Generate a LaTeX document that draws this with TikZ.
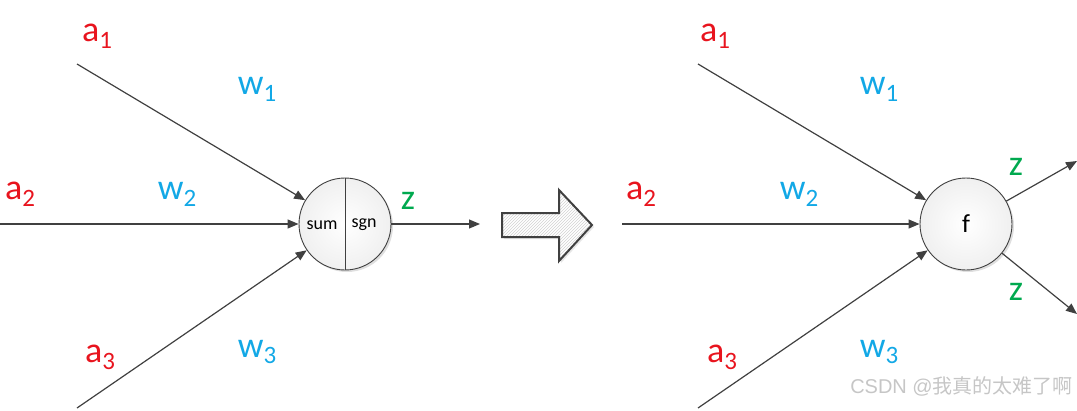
\documentclass[tikz,border=0pt]{standalone}
\usepackage{fontspec}
\setmainfont{Carlito}
\newfontfamily\cjk{Noto Sans CJK SC}
\usetikzlibrary{arrows.meta,patterns,shadows}
\definecolor{lred}{HTML}{E8141E}
\definecolor{lblue}{HTML}{12A8E6}
\definecolor{lgreen}{HTML}{00A94F}
\definecolor{lline}{HTML}{404040}
\newcommand\subsc[1]{\raisebox{-0.4ex}{\fontsize{25}{25}\selectfont #1}}
\tikzset{
  x=1pt,y=-1pt,
  conn/.style={draw=lline,line width=1.2pt,-{Triangle[length=11pt,width=9pt]}},
  neuron/.style={circle,draw=lline,line width=0.9pt,minimum size=92pt,inner sep=0pt,
     inner color=white,outer color=gray!12,drop shadow={shadow xshift=2pt,shadow yshift=-2pt,opacity=0.25}},
  alab/.style={text=lred,font=\fontsize{36}{36}\selectfont,inner sep=0pt},
  wlab/.style={text=lblue,font=\fontsize{36}{36}\selectfont,inner sep=0pt},
  zlab/.style={text=lgreen,font=\fontsize{36}{36}\selectfont,inner sep=0pt},
  small/.style={font=\fontsize{18}{18}\selectfont,inner sep=0pt},
}
\begin{document}
\begin{tikzpicture}
\useasboundingbox (0,0) rectangle (1077,410);
% ---------- left neuron ----------
\node[neuron] (L) at (345,224) {};
\draw[lline,line width=0.9pt] (L.north) -- (L.south);
\node[small] (sum) at (322,225) {sum};
\node[small] (sgn) at (364,225) {sgn};
\coordinate (la1) at (77,64);
\coordinate (la2) at (0,224);
\coordinate (la3) at (77,408);
\coordinate (lz) at (480,224);
\draw[conn] (la1) -- (L);
\draw[conn] (la2) -- (L);
\draw[conn] (la3) -- (L);
\draw[conn] (L) -- (lz);
\node[alab] (ta1) at (97,36) {a\subsc{1}};
\node[wlab] (tw1) at (257,89) {w\subsc{1}};
\node[alab] (ta2) at (20,194) {a\subsc{2}};
\node[wlab] (tw2) at (177,194) {w\subsc{2}};
\node[alab] (ta3) at (100,357) {a\subsc{3}};
\node[wlab] (tw3) at (257,352) {w\subsc{3}};
\node[zlab] (tz) at (408,201) {z};
% ---------- big hollow arrow ----------
\path[draw=lline,line width=2pt,
  preaction={fill=white,drop shadow={shadow xshift=2pt,shadow yshift=-2pt,opacity=0.2}},
  pattern=north east lines,pattern color=gray!35]
  (502,213) -- (559,213) -- (559,190) -- (592,225) -- (559,261) -- (559,237) -- (502,237) -- cycle;
% ---------- right neuron ----------
\node[neuron] (R) at (966,224) {};
\node[font=\fontsize{26}{26}\selectfont,inner sep=0pt] (f) at (966,224) {f};
\coordinate (ra1) at (698,64);
\coordinate (ra2) at (622,224);
\coordinate (ra3) at (698,408);
\coordinate (rz1) at (1077,161);
\coordinate (rz2) at (1077,314);
\draw[conn] (ra1) -- (R);
\draw[conn] (ra2) -- (R);
\draw[conn] (ra3) -- (R);
\draw[conn] (R) -- (rz1);
\draw[conn] (R) -- (rz2);
\node[alab] (sa1) at (715,36) {a\subsc{1}};
\node[wlab] (sw1) at (879,89) {w\subsc{1}};
\node[alab] (sa2) at (641,194) {a\subsc{2}};
\node[wlab] (sw2) at (799,194) {w\subsc{2}};
\node[alab] (sa3) at (722,357) {a\subsc{3}};
\node[wlab] (sw3) at (879,352) {w\subsc{3}};
\node[zlab] (sz1) at (1016,167) {z};
\node[zlab] (sz2) at (1016,292) {z};
% ---------- watermark ----------
\node[text=gray!45,font=\fontsize{20}{20}\selectfont,inner sep=0pt,anchor=east] (wm) at (1073,386) {\fontspec{Liberation Sans}CSDN @{\cjk 我真的太难了啊}};
\end{tikzpicture}
\end{document}
